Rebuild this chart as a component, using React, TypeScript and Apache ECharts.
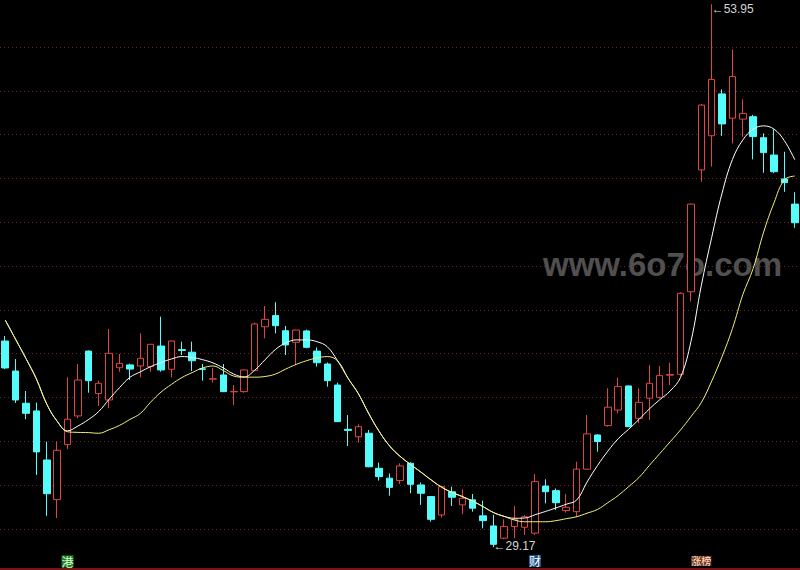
import React, { useEffect, useRef } from "react";
import * as echarts from "echarts";

// ---- data ----
const categories = [
  "1","2","3","4","5","6","7","8","9","10","11","12","13","14","15","16","17","18","19","20",
  "21","22","23","24","25","26","27","28","29","30","31","32","33","34","35","36","37","38","39","40",
  "41","42","43","44","45","46","47","48","49","50","51","52","53","54","55","56","57","58","59","60",
  "61","62","63","64","65","66","67","68","69","70","71","72","73","74","75","76","77",
];

const opens = [
  38.58, 37.21, 35.74, 35.39, 33.15, 31.34, 33.85, 35.16, 38.12, 36.18,
  35.89, 37.36, 37.49, 37.44, 37.41, 38.35, 37.29, 38.19, 38.07, 37.31,
  36.84, 37.03, 36.26, 36.27, 37.23, 39.23, 39.74, 39.05, 38.52, 39.04,
  38.12, 37.53, 36.57, 34.55, 34.21, 34.37, 32.77, 32.32, 32.21, 33.0,
  32.01, 31.48, 30.64, 31.7, 31.1, 31.33, 30.6, 30.14, 29.58, 30.11,
  30.08, 29.81, 31.96, 31.75, 30.84, 30.79, 32.73, 34.29, 34.72, 35.43,
  36.53, 35.05, 35.97, 36.01, 37.02, 37.06, 40.83, 46.39, 47.95, 49.86,
  48.75, 48.71, 48.82, 47.86, 47.07, 45.98, 44.83,
];
const closes = [
  37.35, 35.89, 35.28, 33.52, 31.61, 33.59, 35.01, 36.8, 36.77, 36.65,
  38.02, 37.56, 37.3, 37.79, 38.43, 37.26, 38.58, 38.15, 37.68, 37.29,
  36.86, 36.27, 36.28, 37.26, 39.36, 39.57, 39.28, 38.4, 39.08, 38.29,
  37.59, 36.77, 34.9, 34.5, 34.67, 32.84, 32.39, 31.9, 32.88, 32.04,
  31.63, 30.44, 31.93, 31.45, 31.4, 30.95, 30.38, 29.3, 30.11, 30.44,
  30.56, 32.16, 31.7, 31.2, 30.99, 32.73, 34.34, 33.99, 35.56, 36.5,
  34.67, 35.78, 36.65, 37.0, 37.05, 40.76, 44.83, 49.35, 50.52, 48.49,
  50.65, 48.97, 47.91, 47.18, 46.31, 45.81, 43.98,
];
const lows = [
  37.3, 35.75, 35.01, 32.47, 30.6, 30.5, 33.64, 35.05, 36.22, 35.62,
  35.51, 37.18, 36.8, 36.92, 37.18, 37.18, 36.92, 37.94, 37.21, 36.77,
  36.68, 36.25, 35.66, 36.22, 37.2, 38.7, 38.93, 37.94, 37.49, 38.25,
  37.41, 36.5, 34.88, 33.79, 33.94, 32.82, 32.21, 31.52, 32.05, 31.63,
  31.1, 30.34, 30.52, 31.05, 30.69, 30.79, 30.03, 29.17, 29.53, 29.58,
  29.73, 29.73, 31.17, 30.87, 30.75, 30.54, 32.7, 33.53, 34.67, 35.28,
  34.65, 34.83, 34.98, 35.95, 36.57, 37.0, 40.38, 45.85, 46.54, 47.94,
  47.6, 47.91, 46.87, 46.26, 46.24, 45.39, 43.75,
];
const highs = [
  38.81, 37.76, 36.3, 35.77, 33.99, 33.99, 36.92, 37.53, 38.15, 36.77,
  39.13, 37.99, 37.55, 38.93, 38.45, 39.69, 38.6, 38.55, 38.55, 37.53,
  37.34, 37.53, 36.57, 37.28, 39.43, 40.18, 40.35, 39.27, 39.1, 39.1,
  38.29, 37.6, 36.68, 35.2, 34.78, 34.52, 33.03, 32.54, 33.0, 33.05,
  32.12, 31.5, 31.97, 31.93, 31.81, 31.6, 31.29, 30.65, 30.44, 31.05,
  30.64, 32.51, 32.27, 31.85, 31.6, 33.07, 35.2, 34.32, 36.42, 36.91,
  36.55, 36.42, 37.49, 37.44, 37.59, 40.8, 44.85, 49.4, 53.95, 50.07,
  51.89, 49.61, 48.9, 48.06, 48.24, 47.22, 45.37,
];

const whiteLine = [
  39.54, 38.66, 37.78, 36.85, 35.7, 34.92, 34.48, 34.7, 34.99, 35.36,
  35.92, 36.45, 36.92, 37.17, 37.41, 37.6, 37.76, 37.87, 37.83, 37.73,
  37.58, 37.35, 37.07, 36.94, 37.24, 37.72, 38.19, 38.49, 38.63, 38.63,
  38.55, 38.32, 37.67, 36.88, 36.17, 35.26, 34.45, 33.79, 33.32, 32.95,
  32.6, 32.24, 31.91, 31.67, 31.48, 31.27, 31.02, 30.75, 30.58, 30.49,
  30.5, 30.65, 30.8, 30.96, 31.13, 31.32, 32.14, 32.89, 33.55, 34.12,
  34.55, 35.0, 35.48, 35.9, 36.3, 36.92, 38.55, 41.11, 43.31, 45.33,
  46.87, 47.76, 48.25, 48.4, 48.25, 47.72, 46.85,
];
const yellowLine = [
  39.54, 38.66, 37.78, 36.85, 35.7, 34.92, 34.44, 34.41, 34.4, 34.37,
  34.53, 34.73, 35.0, 35.27, 35.79, 36.25, 36.6, 36.91, 37.14, 37.35,
  37.44, 37.23, 36.98, 36.93, 36.93, 36.96, 37.07, 37.3, 37.51, 37.68,
  37.81, 37.87, 37.67, 36.88, 36.17, 35.26, 34.45, 33.79, 33.32, 32.95,
  32.6, 32.24, 31.91, 31.67, 31.48, 31.27, 31.02, 30.75, 30.58, 30.41,
  30.33, 30.33, 30.33, 30.38, 30.47, 30.56, 30.72, 30.89, 31.2, 31.53,
  31.93, 32.35, 32.9, 33.44, 33.98, 34.52, 35.13, 35.77, 36.75, 37.87,
  39.15, 40.7, 41.9, 43.55, 44.89, 45.94, 46.11,
];

const gridLevels = [30, 32, 34, 36, 38, 40, 42, 44, 46, 48, 50, 52];

const tagIndex = [6, 51, 67];
const tagText = ["港", "财", "涨榜"];
const tagStyle = ["gang", "cai", "zb"];

const watermark = "www.6o7o.com";

export default function App() {
  const ref = useRef<HTMLDivElement>(null);

  useEffect(() => {
    if (!ref.current) return;
    const chart = echarts.init(ref.current, null, { renderer: "svg" });

    const candleData = opens.map((o, i) => [o, closes[i], lows[i], highs[i]]);
    let hiIdx = 0;
    let loIdx = 0;
    highs.forEach((h, i) => {
      if (h > highs[hiIdx]) hiIdx = i;
    });
    lows.forEach((l, i) => {
      if (l < lows[loIdx]) loIdx = i;
    });

    const tagMap: Record<number, string> = {};
    tagIndex.forEach((idx, k) => {
      tagMap[idx] = `{${tagStyle[k]}|${tagText[k]}}`;
    });

    const option: any = {
      animation: false,
      backgroundColor: "#000000",
      textStyle: { fontFamily: "Liberation Sans" },
      grid: { left: -0.7, right: -0.1, top: 3.2, bottom: 19.1 },
      xAxis: {
        type: "category",
        data: categories,
        boundaryGap: true,
        axisLine: { show: false },
        axisTick: { show: false },
        splitLine: { show: false },
        axisLabel: {
          interval: 0,
          margin: 4,
          formatter: (_v: string, idx: number) => tagMap[idx] || "",
          rich: {
            gang: {
              backgroundColor: "#1f7d22",
              color: "#d8ffd0",
              fontSize: 12,
              lineHeight: 13,
              fontFamily: "Noto Sans CJK SC",
            },
            cai: {
              backgroundColor: "#1d4f86",
              color: "#ffffff",
              fontSize: 12,
              lineHeight: 12,
              fontFamily: "Noto Sans CJK SC",
            },
            zb: {
              backgroundColor: "#7a3a22",
              color: "#ffe4d4",
              fontSize: 10,
              lineHeight: 12,
              fontFamily: "Noto Sans CJK SC",
            },
          },
        },
      },
      yAxis: {
        type: "value",
        min: 29,
        max: 54,
        show: false,
        splitLine: { show: false },
      },
      graphic: [
        {
          type: "text",
          left: 543,
          top: 248,
          z: 0,
          silent: true,
          style: {
            text: watermark,
            fill: "#505050",
            fontSize: 33,
            fontWeight: "bold",
            fontFamily: "Liberation Sans",
          },
        },
        {
          type: "line",
          z: 0,
          silent: true,
          shape: { x1: 0, y1: 569, x2: 800, y2: 569 },
          style: { stroke: "#7a1414", lineWidth: 2 },
        },
      ],
      series: [
        {
          type: "candlestick",
          z: 3,
          barWidth: 7,
          data: candleData,
          itemStyle: {
            color: "#000000",
            color0: "#54fcfc",
            borderColor: "#e04444",
            borderColor0: "#54fcfc",
            borderWidth: 1,
          },
          markLine: {
            silent: true,
            z: 1,
            symbol: ["none", "none"],
            label: { show: false },
            lineStyle: { color: "#6a262c", type: [1, 3], width: 1 },
            data: gridLevels.map((v) => ({ yAxis: v })),
          },
          markPoint: {
            silent: true,
            symbol: "circle",
            symbolSize: 0,
            label: {
              show: true,
              position: "right",
              distance: 0,
              color: "#d4d4d4",
              fontSize: 12,
              fontFamily: "Liberation Sans",
              formatter: (p: any) => "←" + Number(p.value).toFixed(2),
            },
            data: [
              {
                coord: [categories[hiIdx], highs[hiIdx]],
                value: highs[hiIdx],
                label: { offset: [0, 5] },
              },
              {
                coord: [categories[loIdx], lows[loIdx]],
                value: lows[loIdx],
                label: { offset: [0, -1] },
              },
            ],
          },
        },
        {
          type: "line",
          z: 4,
          data: whiteLine,
          smooth: 0.4,
          symbol: "none",
          lineStyle: { color: "#ffffff", width: 1 },
        },
        {
          type: "line",
          z: 5,
          data: yellowLine,
          smooth: 0.4,
          symbol: "none",
          lineStyle: { color: "#f2f27c", width: 1 },
        },
      ],
    };

    chart.setOption(option);
    return () => chart.dispose();
  }, []);

  return (
    <div
      ref={ref}
      style={{
        position: "absolute",
        left: 0,
        top: 0,
        width: 800,
        height: 570,
        background: "#000",
      }}
    />
  );
}
